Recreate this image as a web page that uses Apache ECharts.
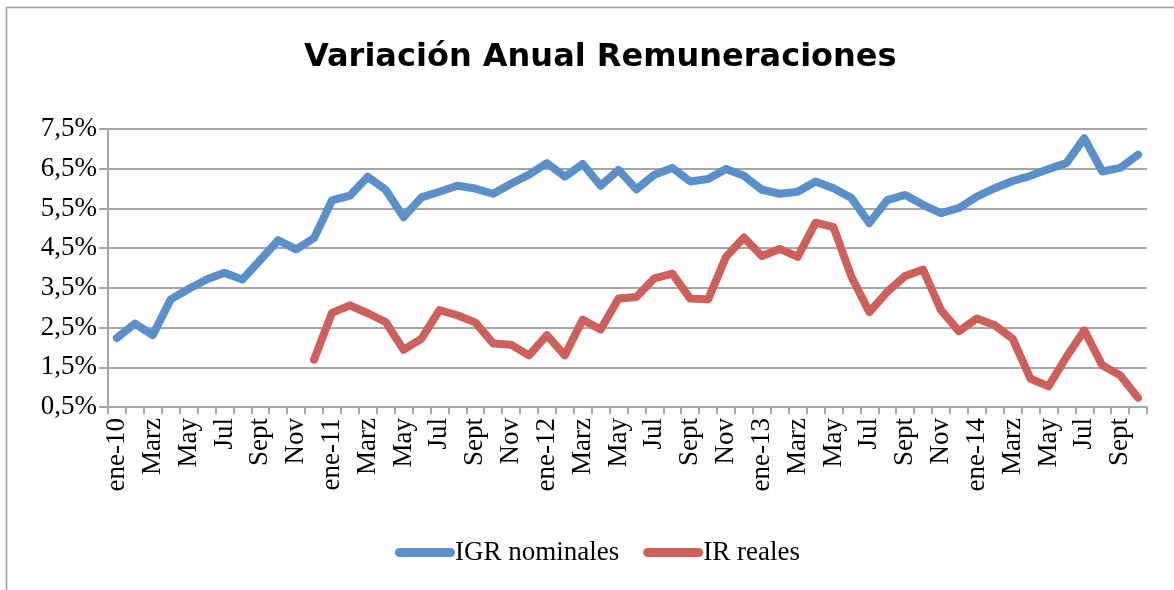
<!DOCTYPE html>
<html>
<head>
<meta charset="utf-8">
<script src="https://cdn.jsdelivr.net/npm/echarts@6/dist/echarts.min.js"></script>
<style>
	html, body { margin: 0; padding: 0; background: #fff; }
	#chart { width: 1174px; height: 590px; }
</style>
</head>
<body>
<div id="chart"></div>
<script>
//meses, ene-10 .. oct-14
var meses = [];
var nombresMes = ['ene', 'Feb', 'Marz', 'Abr', 'May', 'Jun', 'Jul', 'Ago', 'Sept', 'Oct', 'Nov', 'Dic'];
for(var a = 10; a <= 14; a++) {
	for(var m = 0; m < 12; m++) {
		if(a == 14 && m > 9) break;
		meses.push(m == 0 ? 'ene-' + a : nombresMes[m]);
	}
}

var yTicks = ['0,5%', '1,5%', '2,5%', '3,5%', '4,5%', '5,5%', '6,5%', '7,5%'];

//IGR nominales
var igrNominales = [
	2.24, 2.60, 2.31, 3.21, 3.47, 3.71, 3.88, 3.71, 4.20, 4.70, 4.47, 4.75,
	5.70, 5.82, 6.30, 5.97, 5.28, 5.78, 5.92, 6.07, 6.00, 5.87, 6.12, 6.35,
	6.64, 6.30, 6.62, 6.07, 6.47, 5.98, 6.35, 6.52, 6.18, 6.24, 6.49, 6.32,
	5.97, 5.87, 5.92, 6.18, 6.01, 5.76, 5.13, 5.71, 5.84, 5.59, 5.38, 5.51,
	5.80, 6.01, 6.19, 6.32, 6.49, 6.64, 7.27, 6.43, 6.52, 6.85
];

//IR reales (empieza en dic-10)
var irReales = [
	'-', '-', '-', '-', '-', '-', '-', '-', '-', '-', '-', 1.69,
	2.87, 3.06, 2.86, 2.64, 1.94, 2.22, 2.94, 2.81, 2.63, 2.10, 2.07, 1.80,
	2.31, 1.80, 2.70, 2.45, 3.23, 3.27, 3.74, 3.86, 3.23, 3.21, 4.28, 4.77,
	4.30, 4.48, 4.28, 5.14, 5.03, 3.78, 2.89, 3.40, 3.80, 3.96, 2.94, 2.41,
	2.73, 2.56, 2.22, 1.21, 1.02, 1.76, 2.43, 1.55, 1.30, 0.73
];

var gris = '#a6a6a6';
var serif = '"Liberation Serif", "DejaVu Serif", serif';

var myChart = echarts.init(document.getElementById('chart'));

var option = {
	animation: false,
	graphic: [{
		type: 'rect',
		shape: { x: 6.5, y: 7.5, width: 1200, height: 700 },
		style: { fill: 'none', stroke: '#9a9a9a', lineWidth: 1.5 },
		silent: true
	}],
	title: {
		text: 'Variación Anual Remuneraciones',
		left: 299,
		top: 37,
		textStyle: {
			fontFamily: '"DejaVu Sans", sans-serif',
			fontWeight: 'bold',
			fontSize: 32,
			color: '#000'
		}
	},
	legend: {
		top: 534,
		left: 390,
		itemWidth: 60,
		itemHeight: 9,
		itemGap: 24,
		icon: 'path://M4.5,0 H55.5 A4.5,4.5 0 0 1 55.5,9 H4.5 A4.5,4.5 0 0 1 4.5,0 Z',
		textStyle: {
			fontFamily: serif,
			fontSize: 27,
			color: '#000',
			padding: [0, 0, 0, -5]
		},
		data: ['IGR nominales', 'IR reales']
	},
	grid: {
		left: 108,
		right: 27,
		top: 129,
		bottom: 183,
		containLabel: false
	},
	xAxis: {
		type: 'category',
		data: meses,
		boundaryGap: true,
		axisLine: { lineStyle: { color: gris, width: 2 } },
		axisTick: {
			show: true,
			interval: 0,
			length: 7,
			lineStyle: { color: gris, width: 2 }
		},
		axisLabel: {
			interval: 1,
			rotate: 90,
			margin: 11,
			fontFamily: serif,
			fontSize: 27,
			color: '#000'
		}
	},
	yAxis: {
		type: 'value',
		min: 0.5,
		max: 7.5,
		interval: 1,
		axisLine: { show: true, lineStyle: { color: gris, width: 2 } },
		axisTick: { show: true, inside: false, length: 9, lineStyle: { color: gris, width: 2 } },
		splitLine: { lineStyle: { color: gris, width: 2 } },
		axisLabel: {
			margin: 11,
			fontFamily: serif,
			fontSize: 27,
			color: '#000',
			formatter: function(v) {
				return yTicks[Math.round(v - 0.5)];
			}
		}
	},
	series: [{
		name: 'IGR nominales',
		type: 'line',
		data: igrNominales,
		symbol: 'none',
		lineStyle: { width: 8, color: '#5b8fc9', cap: 'round', join: 'round' },
		itemStyle: { color: '#5b8fc9' }
	}, {
		name: 'IR reales',
		type: 'line',
		data: irReales,
		symbol: 'none',
		lineStyle: { width: 8, color: '#cd605a', cap: 'round', join: 'round' },
		itemStyle: { color: '#cd605a' }
	}]
};
myChart.setOption(option);
</script>
</body>
</html>
